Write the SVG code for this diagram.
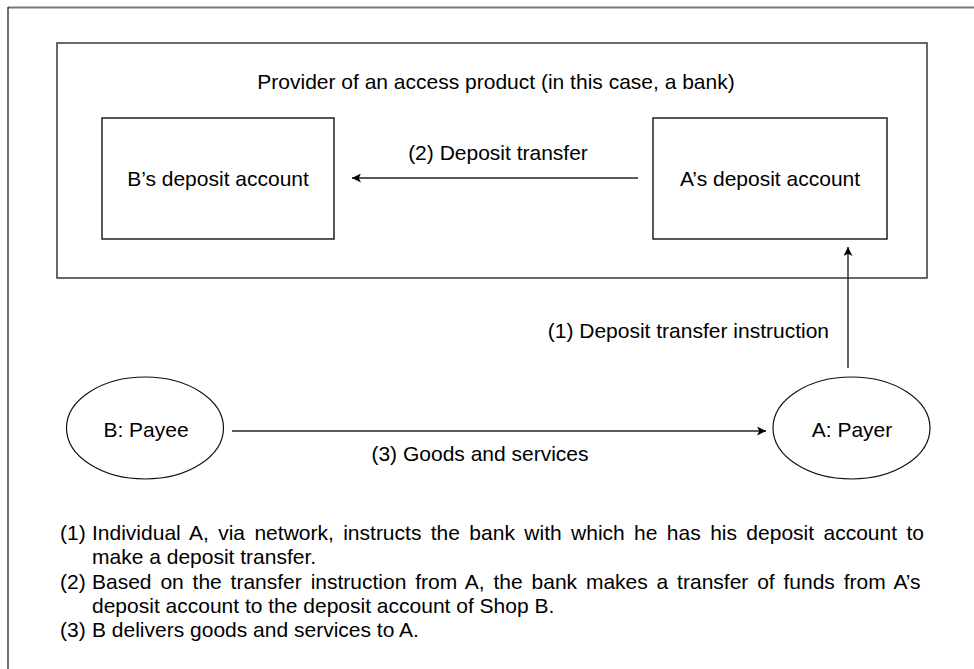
<svg xmlns="http://www.w3.org/2000/svg" width="974" height="669" viewBox="0 0 974 669">
<style>
text{font-family:"Liberation Sans",Arial,sans-serif;font-size:21px;fill:#000}
.c{text-anchor:middle}
.box{fill:#fff;stroke:#111;stroke-width:1.4}
.ell{fill:#fff;stroke:#111;stroke-width:1.2}
.ln{fill:none;stroke:#222;stroke-width:1.4}
</style>
<defs>
<marker id="ah" viewBox="0 0 10 10" refX="10" refY="5" markerWidth="9" markerHeight="9" markerUnits="userSpaceOnUse" orient="auto">
<path d="M0,0 L10,5 L0,10 L2.5,5 Z" fill="#000"/>
</marker>
</defs>
<rect width="974" height="669" fill="#fff"/>
<g id="frame">
<line x1="8" y1="7.5" x2="974" y2="7.5" stroke="#7a7a7a" stroke-width="2"/>
<line x1="8" y1="7" x2="8" y2="669" stroke="#222" stroke-width="1.3"/>
</g>
<g id="bank">
<rect x="57" y="43" width="870" height="235" fill="none" stroke="#444" stroke-width="1.6"/>
<text class="c" x="496" y="89">Provider of an access product (in this case, a bank)</text>
</g>
<g id="b-account">
<rect class="box" x="102" y="118" width="232" height="121"/>
<text class="c" x="218" y="186">B’s deposit account</text>
</g>
<g id="a-account">
<rect class="box" x="653" y="118" width="234" height="121"/>
<text class="c" x="770" y="186">A’s deposit account</text>
</g>
<g id="payee">
<ellipse class="ell" cx="145" cy="428" rx="78.5" ry="51"/>
<text class="c" x="146" y="437">B: Payee</text>
</g>
<g id="payer">
<ellipse class="ell" cx="851.5" cy="428" rx="78.5" ry="51"/>
<text class="c" x="852" y="437">A: Payer</text>
</g>
<g id="connectors">
<line class="ln" x1="638" y1="178" x2="352" y2="178" stroke="#555" stroke-width="2" marker-end="url(#ah)"/>
<text class="c" x="498" y="160">(2) Deposit transfer</text>
<line class="ln" x1="848" y1="368" x2="848" y2="247" marker-end="url(#ah)"/>
<text x="829" y="338" text-anchor="end">(1) Deposit transfer instruction</text>
<line class="ln" x1="232" y1="431" x2="766" y2="431" marker-end="url(#ah)"/>
<text class="c" x="480" y="461">(3) Goods and services</text>
</g>
<g id="notes">
<text x="60" y="540">(1)</text>
<text x="92" y="540" word-spacing="3.56">Individual A, via network, instructs the bank with which he has his deposit account to</text>
<text x="92" y="564">make a deposit transfer.</text>
<text x="60" y="589">(2)</text>
<text x="92" y="589" word-spacing="3.0">Based on the transfer instruction from A, the bank makes a transfer of funds from A’s</text>
<text x="92" y="613">deposit account to the deposit account of Shop B.</text>
<text x="60" y="637">(3)</text>
<text x="92" y="637">B delivers goods and services to A.</text>
</g>
</svg>
